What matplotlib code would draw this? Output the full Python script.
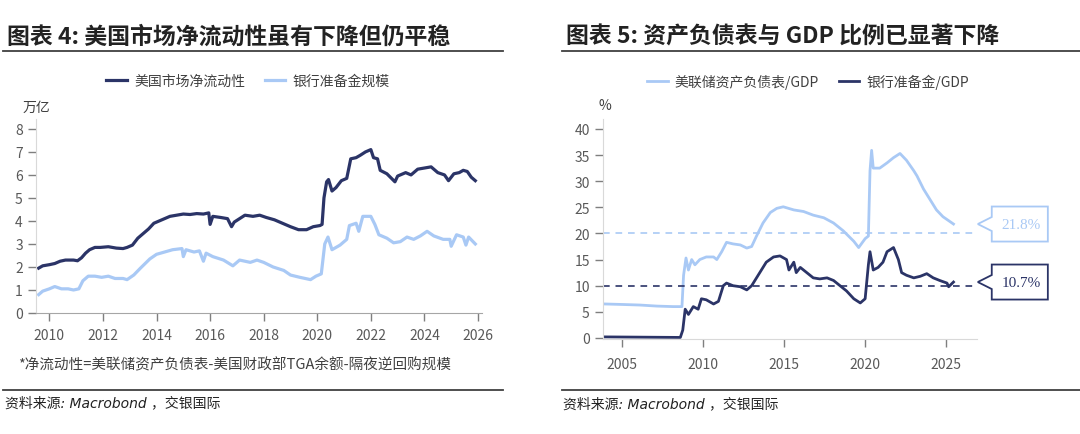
import numpy as np
import matplotlib
matplotlib.use("Agg")
import matplotlib.pyplot as plt
from matplotlib.patches import Polygon
from matplotlib.lines import Line2D

plt.rcParams['font.family'] = ['Noto Sans CJK SC', 'DejaVu Sans']

NAVY = "#2B3467"
LIGHT = "#A9C9F5"
GREY_TXT = "#595959"

# ---- chart 4: net liquidity vs reserves (trillion USD, 万亿) ----
liq_t = [2009.6, 2009.75, 2010.0, 2010.2, 2010.4, 2010.6, 2010.9, 2011.05, 2011.2, 2011.35,
         2011.5, 2011.7, 2011.9, 2012.2, 2012.5, 2012.75, 2012.9, 2013.1, 2013.3, 2013.5,
         2013.7, 2013.9, 2014.1, 2014.3, 2014.5, 2014.75, 2015.0, 2015.25, 2015.5, 2015.75,
         2015.95, 2016.0, 2016.1, 2016.4, 2016.65, 2016.8, 2016.9, 2017.1, 2017.3, 2017.6,
         2017.85, 2018.1, 2018.4, 2018.7, 2019.0, 2019.3, 2019.6, 2019.85, 2020.1, 2020.18,
         2020.25, 2020.35, 2020.42, 2020.55, 2020.7, 2020.9, 2021.1, 2021.18, 2021.25, 2021.45,
         2021.6, 2021.8, 2022.0, 2022.1, 2022.25, 2022.35, 2022.6, 2022.9, 2023.0, 2023.3,
         2023.5, 2023.75, 2024.0, 2024.25, 2024.5, 2024.75, 2024.9, 2025.1, 2025.3, 2025.45,
         2025.6, 2025.75, 2025.9]
liq_v = [1.95, 2.05, 2.1, 2.15, 2.25, 2.3, 2.3, 2.27, 2.4, 2.6,
         2.75, 2.85, 2.85, 2.88, 2.82, 2.8, 2.85, 2.95, 3.25, 3.45,
         3.65, 3.9, 4.0, 4.1, 4.2, 4.25, 4.3, 4.28, 4.32, 4.3,
         4.35, 3.85, 4.2, 4.15, 4.1, 3.75, 3.95, 4.1, 4.25, 4.2,
         4.25, 4.15, 4.05, 3.9, 3.75, 3.62, 3.62, 3.75, 3.8, 3.85,
         5.0, 5.7, 5.8, 5.3, 5.45, 5.75, 5.85, 6.3, 6.7, 6.75,
         6.85, 7.0, 7.1, 6.75, 6.7, 6.2, 6.05, 5.7, 5.95, 6.1,
         6.0, 6.25, 6.3, 6.35, 6.1, 6.0, 5.75, 6.05, 6.1, 6.2,
         6.15, 5.9, 5.75]

res_t = [2009.6, 2009.75, 2010.0, 2010.2, 2010.45, 2010.7, 2010.9, 2011.1, 2011.25, 2011.45,
         2011.7, 2011.95, 2012.2, 2012.45, 2012.75, 2012.9, 2013.15, 2013.4, 2013.75, 2014.0,
         2014.3, 2014.6, 2014.95, 2015.0, 2015.1, 2015.4, 2015.6, 2015.75, 2015.85, 2016.1,
         2016.5, 2016.85, 2017.1, 2017.5, 2017.75, 2018.0, 2018.35, 2018.75, 2019.0, 2019.35,
         2019.75, 2019.95, 2020.15, 2020.28, 2020.4, 2020.55, 2020.85, 2021.1, 2021.2, 2021.45,
         2021.55, 2021.7, 2022.0, 2022.15, 2022.3, 2022.6, 2022.85, 2023.1, 2023.35, 2023.6,
         2023.85, 2024.1, 2024.35, 2024.7, 2024.95, 2025.0, 2025.2, 2025.45, 2025.55, 2025.65,
         2025.9]
res_v = [0.8, 0.95, 1.05, 1.15, 1.05, 1.05, 1.0, 1.05, 1.4, 1.6,
         1.6, 1.55, 1.6, 1.5, 1.5, 1.45, 1.65, 1.95, 2.35, 2.55,
         2.65, 2.75, 2.8, 2.45, 2.75, 2.65, 2.7, 2.25, 2.6, 2.45,
         2.3, 2.05, 2.3, 2.2, 2.3, 2.2, 2.0, 1.85, 1.65, 1.55,
         1.45, 1.6, 1.7, 3.0, 3.3, 2.75, 2.95, 3.2, 3.8, 3.9,
         3.55, 4.2, 4.2, 3.85, 3.4, 3.25, 3.05, 3.1, 3.3, 3.2,
         3.35, 3.55, 3.35, 3.2, 3.2, 2.9, 3.4, 3.3, 2.95, 3.3,
         3.0]

# ---- chart 5: ratios to GDP (%) ----
bs_t = [2003.97, 2005.1, 2006.1, 2007.15, 2008.15, 2008.7, 2008.8, 2008.95, 2009.1, 2009.3,
        2009.5, 2009.8, 2010.2, 2010.65, 2010.85, 2011.15, 2011.45, 2011.85, 2012.3, 2012.7,
        2013.0, 2013.3, 2013.7, 2014.15, 2014.55, 2014.95, 2015.6, 2016.2, 2016.8, 2017.45,
        2018.05, 2018.65, 2019.3, 2019.6, 2020.0, 2020.2, 2020.3, 2020.4, 2020.5, 2020.9,
        2021.35, 2021.75, 2022.15, 2022.55, 2023.0, 2023.2, 2023.6, 2024.0, 2024.4, 2024.8,
        2025.45]
bs_v = [6.5, 6.4, 6.3, 6.1, 6.0, 6.0, 12.0, 15.3, 13.0, 15.0,
        14.0, 15.0, 15.5, 15.5, 15.0, 16.5, 18.3, 18.0, 17.8, 17.2,
        17.5, 19.5, 22.0, 24.0, 24.8, 25.1, 24.5, 24.2, 23.5, 23.0,
        22.0, 20.5, 18.5, 17.3, 19.0, 19.5, 32.0, 35.9, 32.5, 32.5,
        33.5, 34.5, 35.3, 34.0, 32.0, 31.0, 28.5, 26.5, 24.5, 23.2,
        21.8]

rg_t = [2003.97, 2008.6, 2008.75, 2008.9, 2009.1, 2009.4, 2009.7, 2009.9, 2010.2, 2010.65,
        2010.95, 2011.25, 2011.45, 2011.85, 2012.3, 2012.7, 2013.0, 2013.5, 2013.9, 2014.35,
        2014.75, 2015.15, 2015.3, 2015.6, 2015.75, 2016.0, 2016.4, 2016.8, 2017.2, 2017.65,
        2018.05, 2018.45, 2018.85, 2019.3, 2019.7, 2020.0, 2020.2, 2020.3, 2020.5, 2020.8,
        2021.1, 2021.35, 2021.75, 2022.05, 2022.25, 2022.55, 2023.0, 2023.4, 2023.8, 2024.2,
        2024.6, 2025.05, 2025.15, 2025.45]
rg_v = [0.2, 0.1, 1.5, 5.5, 4.5, 6.0, 5.5, 7.5, 7.3, 6.5,
        7.0, 10.0, 10.5, 10.0, 9.8, 9.2, 10.0, 12.5, 14.5, 15.5,
        15.7, 15.0, 13.0, 14.5, 12.5, 13.5, 12.5, 11.5, 11.3, 11.5,
        11.0, 10.0, 9.0, 7.5, 6.7, 7.5, 14.0, 16.5, 13.0, 13.5,
        14.5, 16.5, 17.3, 15.0, 12.5, 12.0, 11.5, 11.8, 12.3, 11.5,
        11.0, 10.5, 9.8, 10.7]

ref_levels = [20, 10]
callouts = ["21.8%", "10.7%"]

W, H = 1080, 435
fig = plt.figure(figsize=(W / 100, H / 100), dpi=100)


def fx(x):
    return x / W


def fy(y):
    return 1 - y / H


def hline(x0, x1, y):
    fig.add_artist(Line2D([fx(x0), fx(x1)], [fy(y), fy(y)], color="#404040", lw=1.3,
                          transform=fig.transFigure))


def style_axes(ax):
    for s in ("top", "right"):
        ax.spines[s].set_visible(False)
    ax.spines["left"].set_color("#d9d9d9")
    ax.tick_params(axis="both", colors="#7f7f7f", labelcolor=GREY_TXT, labelsize=10,
                   length=6, width=1)
    ax.tick_params(axis="x", pad=5)


# titles + rules
fig.text(fx(7), fy(37), "图表 4: 美国市场净流动性虽有下降但仍平稳", fontsize=16.5,
         fontweight="bold", color="#222222", va="center", ha="left")
fig.text(fx(566), fy(37), "图表 5: 资产负债表与 GDP 比例已显著下降", fontsize=16.5,
         fontweight="bold", color="#222222", va="center", ha="left")
hline(3, 503, 52)
hline(562, 1080, 52)
hline(3, 503, 391)
hline(562, 1080, 391)

src_kw = dict(fontsize=10, style="italic", color="#222222", va="center", ha="left",
              family=["DejaVu Sans", "Noto Sans CJK SC"])
fig.text(fx(5), fy(403), "资料来源: Macrobond ，交银国际", **src_kw)
fig.text(fx(563), fy(404), "资料来源: Macrobond ，交银国际", **src_kw)

# ---------- left chart ----------
ax1 = fig.add_axes([fx(36), fy(314), fx(482) - fx(36), fy(120) - fy(314)])
ax1.plot(liq_t, liq_v, color=NAVY, lw=2.3, label="美国市场净流动性")
ax1.plot(res_t, res_v, color=LIGHT, lw=2.3, label="银行准备金规模")
ax1.set_xlim(2009.5, 2026.15)
ax1.set_ylim(0, 8.43)
ax1.set_xticks(range(2010, 2027, 2))
ax1.set_yticks(range(0, 9))
style_axes(ax1)
ax1.spines["bottom"].set_color("#a6a6a6")
ax1.legend(loc="center", bbox_to_anchor=(fx(248), fy(82)), bbox_transform=fig.transFigure,
           ncol=2, frameon=False, fontsize=10, handlelength=1.5, handletextpad=0.5,
           columnspacing=1.4, labelcolor="#404040")
fig.text(fx(36), fy(108), "万亿", fontsize=10, color="#404040", ha="center", va="center")
fig.text(fx(18), fy(365), "*净流动性=美联储资产负债表-美国财政部TGA余额-隔夜逆回购规模",
         fontsize=10.5, color="#404040", ha="left", va="center")

# ---------- right chart ----------
ax2 = fig.add_axes([fx(603), fy(340), fx(977) - fx(603), fy(120) - fy(340)])
ax2.plot(bs_t, bs_v, color=LIGHT, lw=2.0, label="美联储资产负债表/GDP")
ax2.plot(rg_t, rg_v, color=NAVY, lw=2.0, label="银行准备金/GDP")
ax2.set_xlim(2003.83, 2026.9)
ax2.set_ylim(-0.2, 41.9)
ax2.set_xticks(range(2005, 2026, 5))
ax2.set_yticks(range(0, 41, 5))
style_axes(ax2)
ax2.spines["bottom"].set_color("#d9d9d9")
ax2.tick_params(axis="x", pad=7)
ax2.legend(loc="center", bbox_to_anchor=(fx(808), fy(82)), bbox_transform=fig.transFigure,
           ncol=2, frameon=False, fontsize=10, handlelength=1.5, handletextpad=0.5,
           columnspacing=1.4, labelcolor="#404040")
fig.text(fx(605), fy(106), "%", fontsize=10, color="#404040", ha="center", va="center")

x_end = 2026.95
last_vals = [bs_v[-1], rg_v[-1]]
for lvl, val, lab, col in zip(ref_levels, last_vals, callouts, [LIGHT, NAVY]):
    ax2.plot([2003.83, x_end], [lvl, lvl], color=col, lw=1.2, ls=(0, (4, 3.5)), clip_on=False)
    bx0 = x_end + 0.86
    bx1 = bx0 + 3.46
    hh, nh = 3.35, 1.34
    poly = Polygon([(x_end, val), (bx0, val + nh), (bx0, val + hh), (bx1, val + hh),
                    (bx1, val - hh), (bx0, val - hh), (bx0, val - nh)], closed=True,
                   facecolor="white", edgecolor=col, lw=1.3, clip_on=False)
    ax2.add_patch(poly)
    ax2.text((bx0 + bx1) / 2 + 0.1, val, lab, color=col, fontsize=11, family="Liberation Serif",
             ha="center", va="center", clip_on=False)

fig.savefig("out.png", dpi=100)
